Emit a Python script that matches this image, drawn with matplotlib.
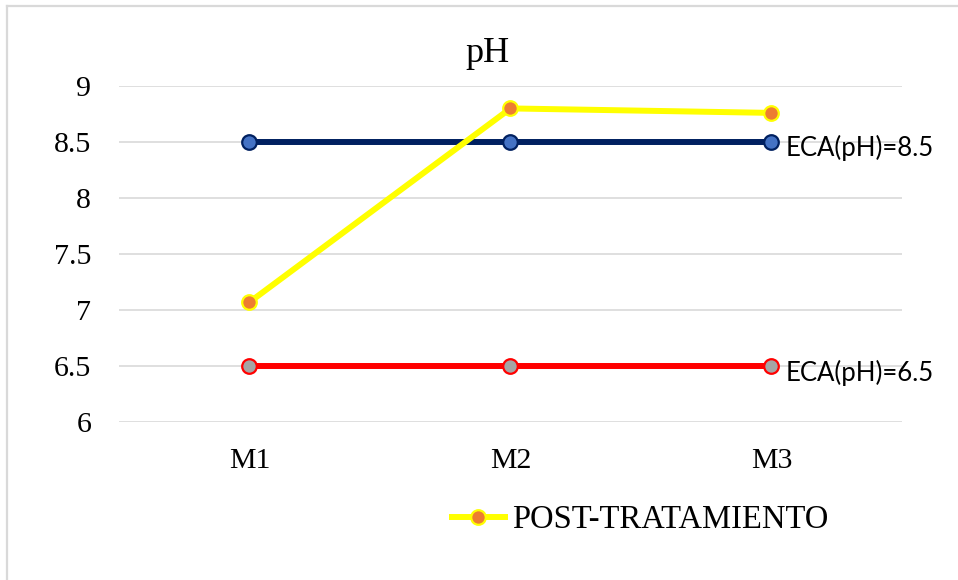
import matplotlib.pyplot as plt
from matplotlib.lines import Line2D

# Datos de pH por muestra
muestras = ['M1', 'M2', 'M3']
post_tratamiento = [7.07, 8.80, 8.76]
eca_max = [8.5, 8.5, 8.5]
eca_min = [6.5, 6.5, 6.5]
yticks = [6, 6.5, 7, 7.5, 8, 8.5, 9]
ytick_labels = ['6', '6.5', '7', '7.5', '8', '8.5', '9']

serif = 'Liberation Serif'
sans = 'Lato'

fig = plt.figure(figsize=(9.58, 5.8), dpi=100)
ax = fig.add_axes([0.1242, 0.2724, 0.8173, 0.5793])

x = range(len(muestras))

# Límites ECA
ax.plot(x, eca_max, color='#002060', lw=4.3, marker='o', ms=10.5,
        mfc='#4472C4', mec='#002060', mew=1.6, zorder=3)
ax.plot(x, eca_min, color='#FF0000', lw=4.3, marker='o', ms=10.5,
        mfc='#A5A5A5', mec='#FF0000', mew=1.6, zorder=3)
# Serie post-tratamiento
ax.plot(x, post_tratamiento, color='#FFFF00', lw=4.3, marker='o', ms=10.5,
        mfc='#ED7D31', mec='#FFFF00', mew=1.6, zorder=4,
        label='POST-TRATAMIENTO')

# Etiquetas de los límites
ax.annotate('ECA(pH)=8.5', (2, eca_max[-1]), xytext=(10, -4),
            textcoords='offset points', ha='left', va='center',
            fontsize=18.5, family=sans)
ax.annotate('ECA(pH)=6.5', (2, eca_min[-1]), xytext=(10, -5),
            textcoords='offset points', ha='left', va='center',
            fontsize=18.5, family=sans)

ax.set_xlim(-0.5, 2.5)
ax.set_ylim(6, 9)
ax.set_xticks(list(x))
ax.set_xticklabels(muestras, fontsize=21.5, family=serif)
ax.set_yticks(yticks)
ax.set_yticklabels(ytick_labels, fontsize=21.5, family=serif)
ax.tick_params(length=0)
ax.tick_params(axis='y', pad=20)
ax.tick_params(axis='x', pad=19)
ax.grid(axis='y', color='#D9D9D9', lw=1.2)
ax.set_axisbelow(True)
for s in ax.spines.values():
    s.set_visible(False)

fig.text(487 / 958, 1 - 62 / 580, 'pH', ha='center', va='baseline',
         fontsize=26, family=serif)

leg = fig.legend(loc='center left', bbox_to_anchor=(452 / 958, 1 - 520 / 580),
                 frameon=False, borderaxespad=0, borderpad=0,
                 prop={'family': serif, 'size': 23.5}, handlelength=1.62,
                 handletextpad=0.22)

# Borde del área del gráfico
fig.add_artist(Line2D([7 / 958, 7 / 958], [0, 1 - 6 / 580],
                      transform=fig.transFigure, color='#D9D9D9', lw=1.6))
fig.add_artist(Line2D([7 / 958, 1], [1 - 6 / 580, 1 - 6 / 580],
                      transform=fig.transFigure, color='#D9D9D9', lw=1.6))

fig.savefig('out.png', dpi=100)
